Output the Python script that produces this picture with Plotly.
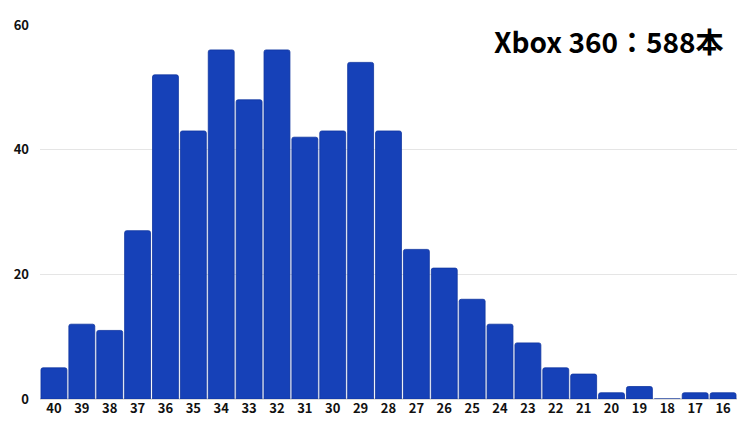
import plotly.graph_objects as go

categories = ["40", "39", "38", "37", "36", "35", "34", "33", "32", "31", "30", "29", "28",
              "27", "26", "25", "24", "23", "22", "21", "20", "19", "18", "17", "16"]
counts = [5, 12, 11, 27, 52, 43, 56, 48, 56, 42, 43, 54, 43,
          24, 21, 16, 12, 9, 5, 4, 1, 2, 0, 1, 1]
y_ticks = [0, 20, 40, 60]
title_text = "Xbox 360：588本"

FONT = "Noto Sans CJK JP"

fig = go.Figure(go.Bar(
    x=categories, y=counts,
    marker=dict(color="#1641B8", line=dict(color="#0F35A0", width=0.8)),
    marker_cornerradius=2,
    hoverinfo="x+y",
))

# page body has an 8px default margin, so the figure is sized to fit the window
fig.update_layout(
    width=742, height=414,
    margin=dict(l=32, r=13, t=17, b=23, autoexpand=False),
    paper_bgcolor="white", plot_bgcolor="white",
    bargap=0.07,
    showlegend=False,
    font=dict(family=FONT, color="#111111"),
    annotations=[dict(
        text="<b>" + title_text + "</b>", xref="paper", yref="paper",
        x=0.984, y=0.957, xanchor="right", yanchor="middle",
        showarrow=False, font=dict(family=FONT, size=28, color="#000000"),
    )],
)
fig.update_xaxes(
    type="category", showgrid=False, showline=False, ticks="", automargin=False,
    tickfont=dict(family=FONT, size=13, color="#111111", weight="bold"),
)
fig.update_yaxes(
    range=[0, 60], tickvals=y_ticks, showgrid=True, gridcolor="#e5e5e5", gridwidth=1,
    zeroline=True, zerolinecolor="#dddddd", showline=False, ticks="", automargin=False,
    tickfont=dict(family=FONT, size=13, color="#111111", weight="bold"),
    ticklabelstandoff=10,
)

fig.write_html("out.html")
